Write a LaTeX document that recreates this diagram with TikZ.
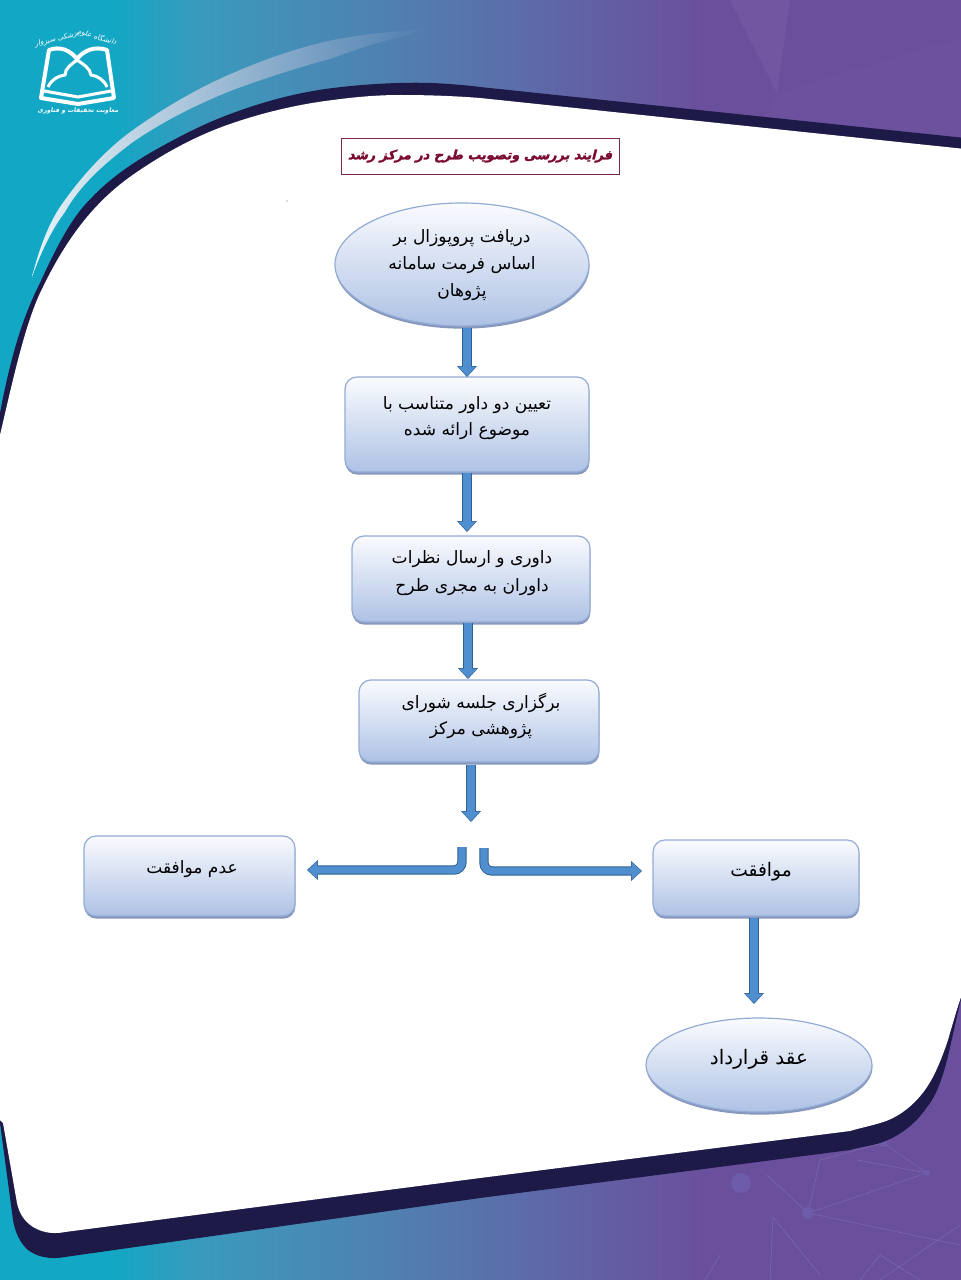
\documentclass[tikz,border=0pt]{standalone}
\usepackage{fontspec}
\usetikzlibrary{shapes.geometric,arrows.meta,calc,shadows}
\TeXXeTstate=1
\newfontfamily\fafont[Script=Arabic]{DejaVu Sans}
\newfontfamily\titlefont[Script=Arabic,BoldFeatures={FakeSlant=0.25,FakeBold=2.2}]{DejaVu Sans}
\newfontfamily\logofont[Script=Arabic,FakeSlant=0.2]{DejaVu Sans}
\newcommand\fa[1]{\beginR #1\endR}
\definecolor{navyband}{HTML}{1E1A48}
\definecolor{arrowfill}{HTML}{4F8FCF}
\definecolor{arrowline}{HTML}{2E5F92}
\definecolor{boxline}{HTML}{93ACD6}
\definecolor{boxtop}{HTML}{FAFBFE}
\definecolor{boxbot}{HTML}{AEC2E5}
\definecolor{boxshadow}{HTML}{8797BC}
\definecolor{titlered}{HTML}{7A0A30}
\definecolor{titleline}{HTML}{7A2A4E}
\definecolor{teal1}{HTML}{12A7C4}
\definecolor{netline}{HTML}{7A64AC}
\definecolor{netdot}{HTML}{6C5CA9}
\definecolor{bgtwo}{HTML}{3A9ABD}
\definecolor{bgthree}{HTML}{5080B0}
\definecolor{bgfour}{HTML}{5F66A8}
\definecolor{bgfive}{HTML}{6A4F9D}
\definecolor{swooshleft}{HTML}{E6F3F7}
\definecolor{swooshmid}{HTML}{AED3E2}
\pgfdeclarehorizontalshading{bgshade}{100bp}{
 color(0bp)=(teal1); color(25bp)=(teal1); color(31bp)=(teal1);
 color(35.5bp)=(bgtwo); color(45.5bp)=(bgthree); color(54bp)=(bgfour);
 color(61.5bp)=(bgfive); color(75bp)=(bgfive); color(100bp)=(bgfive)}
\tikzset{
 procbox/.style={rectangle,rounded corners=9pt,draw=boxline,line width=.9pt,top color=boxtop,bottom color=boxbot,
   inner sep=0pt,outer sep=0pt,copy shadow={shadow xshift=.3pt,shadow yshift=-2pt,fill=boxshadow,draw=none}},
 procell/.style={ellipse,draw=boxline,line width=.9pt,top color=boxtop,bottom color=boxbot,
   inner sep=0pt,outer sep=0pt,copy shadow={shadow xshift=.3pt,shadow yshift=-2pt,fill=boxshadow,draw=none}},
 bodytext/.style={text=black,align=center,inner sep=0pt,font=\fafont\fontsize{12.8}{20}\selectfont},
 bigtext/.style={text=black,align=center,inner sep=0pt,font=\fafont\fontsize{14}{20}\selectfont},
 blockarrow/.style={line width=5.6pt,draw=arrowfill,shorten >=.7pt,line cap=butt,rounded corners=6pt,
   -{Triangle[length=7pt,width=12.5pt]},
   preaction={draw=arrowline,line width=7pt,shorten >=0pt,-{Triangle[length=8.2pt,width=14.5pt]}}},
 logoline/.style={draw=white,line width=2.3pt,line join=round},
}
\begin{document}
\begin{tikzpicture}[x=.75pt,y=-.75pt]
\useasboundingbox (0,0) rectangle (960,1280);
% background
\shade[shading=bgshade] (-3,-3) rectangle (963,1283);
\fill[color=white,opacity=.05] (730,0) -- (790,0) -- (777,93) -- cycle;
\fill[color=white,opacity=.012] (777,93) -- (960,38) -- (960,137) -- (765,117) -- cycle;
% network
\draw[netline,line width=.5pt]
  (808,1213) -- (927,1173) -- (883,1143) -- (820,1160) -- (808,1213)
  (808,1213) -- (960,1245)
  (767,1175) -- (808,1213)
  (927,1173) -- (857,1160)
  (773,1217) -- (770,1280)
  (773,1217) -- (820,1275)
  (705,1280) -- (720,1255)
  (960,1225) -- (880,1280)
  (880,1255) -- (860,1280) (880,1255) -- (920,1280);
\fill[netdot] (741,1183) circle (10) (808,1213) circle (6) (927,1173) circle (3) (883,1143) circle (4);
% page band and page
\fill[navyband] (0,413) .. controls (10,360) and (22,318) .. (40,283) .. controls (55,250) and (68,225) .. (83,207)
  .. controls (105,182) and (125,168) .. (150,153) .. controls (178,137) and (205,123) .. (233,113)
  .. controls (265,101) and (300,92) .. (333,88) .. controls (365,84) and (400,82) .. (433,83)
  .. controls (450,84) and (465,85) .. (480,87)
  -- (965,138) -- (965,985) -- (960,1003) .. controls (955,1025) and (950,1048) .. (947,1060)
  .. controls (942,1080) and (935,1098) .. (927,1107) .. controls (915,1125) and (898,1137) .. (880,1143)
  .. controls (870,1146) and (860,1147) .. (850,1150)
  -- (480,1198) -- (65,1257) .. controls (48,1260) and (36,1256) .. (28,1250)
  .. controls (20,1243) and (15,1232) .. (13,1220) -- (0,1123) -- cycle;
\fill[white] (0,435) .. controls (14,375) and (26,320) .. (43,287) .. controls (57,258) and (72,235) .. (87,217)
  .. controls (103,198) and (120,183) .. (140,170) .. controls (168,151) and (200,134) .. (233,123)
  .. controls (265,112) and (300,104) .. (333,100) .. controls (355,97) and (378,95) .. (400,95)
  .. controls (427,95) and (455,96) .. (480,98)
  -- (965,149) -- (965,985) -- (960,1000) .. controls (955,1015) and (951,1030) .. (947,1043)
  .. controls (941,1060) and (935,1075) .. (927,1087) .. controls (915,1105) and (898,1118) .. (880,1123)
  .. controls (870,1126) and (860,1128) .. (850,1131)
  -- (480,1178) -- (65,1232) .. controls (50,1235) and (40,1231) .. (33,1227)
  .. controls (24,1221) and (19,1213) .. (17,1203) -- (3,1123) -- (0,1120) -- cycle;
% swoosh
\shade[left color=swooshleft,middle color=swooshmid,right color=bgthree] (32,277) .. controls (40,245) and (50,222) .. (60,207)
  .. controls (80,178) and (105,150) .. (133,130) .. controls (165,107) and (200,87) .. (233,73)
  .. controls (265,59) and (300,47) .. (333,40) .. controls (360,35) and (390,31) .. (420,30)
  -- (420,33) .. controls (390,38) and (360,48) .. (333,58) .. controls (300,67) and (265,78) .. (233,90)
  .. controls (200,103) and (165,120) .. (133,142) .. controls (105,163) and (80,185) .. (65,212)
  .. controls (50,232) and (40,255) .. (32,277) -- cycle;
% logo
\draw[logoline,line width=3pt] (49,50) .. controls (60,46) and (70,50) .. (77,59) .. controls (84,50) and (95,46) .. (107,50)
   -- (114,98) -- (78,104) -- (41,98) -- cycle;
\draw[logoline] (48,87) .. controls (52,79) and (58,76) .. (65,75) .. controls (65,68) and (72,64) .. (77,60)
   .. controls (83,64) and (90,68) .. (91,75) .. controls (98,76) and (104,80) .. (107,87);
\draw[logoline] (44,91) -- (78,97) -- (111,91);
\node[text=white,font=\logofont\bfseries\fontsize{4.6}{6}\selectfont,inner sep=0pt] (logosub) at (78,111) {\fa{معاونت تحقیقات و فناوری}};
\node[text=white,font=\logofont\fontsize{5.4}{6}\selectfont,inner sep=0pt,rotate=-16] (logoa) at (97,37) {\fa{دانشگاه علوم}};
\node[text=white,font=\logofont\fontsize{5.4}{6}\selectfont,inner sep=0pt,rotate=14] (logob) at (57,39) {\fa{پزشکی سبزوار}};
% title
\node[draw=titleline,line width=.7pt,fill=white,minimum width=208.5pt,minimum height=27pt,inner sep=0pt,outer sep=0pt,
  text=titlered,font=\titlefont\bfseries\fontsize{9.6}{12}\selectfont] (title) at (480,156) {\fa{فرایند بررسی وتصویب طرح در مرکز رشد}};
\fill[black!60] (287,201) circle (.7);
% flow nodes
\node[procell,minimum width=190.5pt,minimum height=92.25pt] (e1) at (462,264.5) {};
\node[procbox,minimum width=183pt,minimum height=71.25pt] (b2) at (467,424.5) {};
\node[procbox,minimum width=178.5pt,minimum height=64.5pt] (b3) at (471,579) {};
\node[procbox,minimum width=180pt,minimum height=61.5pt] (b4) at (479,721) {};
\node[procbox,minimum width=158.25pt,minimum height=60pt] (no) at (189.5,876) {};
\node[procbox,minimum width=154.5pt,minimum height=57pt] (yes) at (756,878) {};
\node[procell,minimum width=169.5pt,minimum height=70.5pt] (e2) at (759,1065) {};
% texts
\node[bodytext] (t1) at (462,265) {\fa{دریافت پروپوزال بر}\\\fa{اساس فرمت سامانه}\\\fa{پژوهان}};
\node[bodytext] (t2) at (467,418) {\fa{تعیین دو داور متناسب با}\\\fa{موضوع ارائه شده}};
\node[bodytext,font=\fafont\fontsize{12.8}{21.5}\selectfont] (t3) at (472,573) {\fa{داوری و ارسال نظرات}\\\fa{داوران به مجری طرح}};
\node[bodytext] (t4) at (481,716) {\fa{برگزاری جلسه شورای}\\\fa{پژوهشی  مرکز}};
\node[bodytext] (t5) at (192,869) {\fa{عدم موافقت}};
\node[bigtext] (t6) at (761,872) {\fa{موافقت}};
\node[bigtext,font=\fafont\fontsize{15}{20}\selectfont] (t7) at (759,1059) {\fa{عقد قرارداد}};
% connectors
\coordinate (c3) at (468,0);
\coordinate (c4) at (471,0);
\coordinate (c5) at (754,0);
\coordinate (split) at (471,822);
\coordinate (sl) at (462,847);
\coordinate (sr) at (484,848);
\draw[blockarrow] ($(b2.north |- e1.south)+(0,2)$) -- (b2.north);
\draw[blockarrow] ($(b2.south)+(0,1)$) -- ($(b2.south |- b3.north)+(0,-4)$);
\draw[blockarrow] ($(b3.south -| c3)+(0,1)$) -- ($(b4.north -| c3)+(0,-1)$);
\draw[blockarrow] ($(b4.south -| c4)+(0,3)$) -- (split);
\draw[blockarrow] (sl) |- ($(no.east)+(12,-6)$);
\draw[blockarrow] (sr) |- ($(yes.west)+(-11,-7)$);
\draw[blockarrow] ($(yes.south -| c5)+(0,2)$) -- ($(e2.north -| c5)+(0,-14)$);
\end{tikzpicture}
\end{document}
